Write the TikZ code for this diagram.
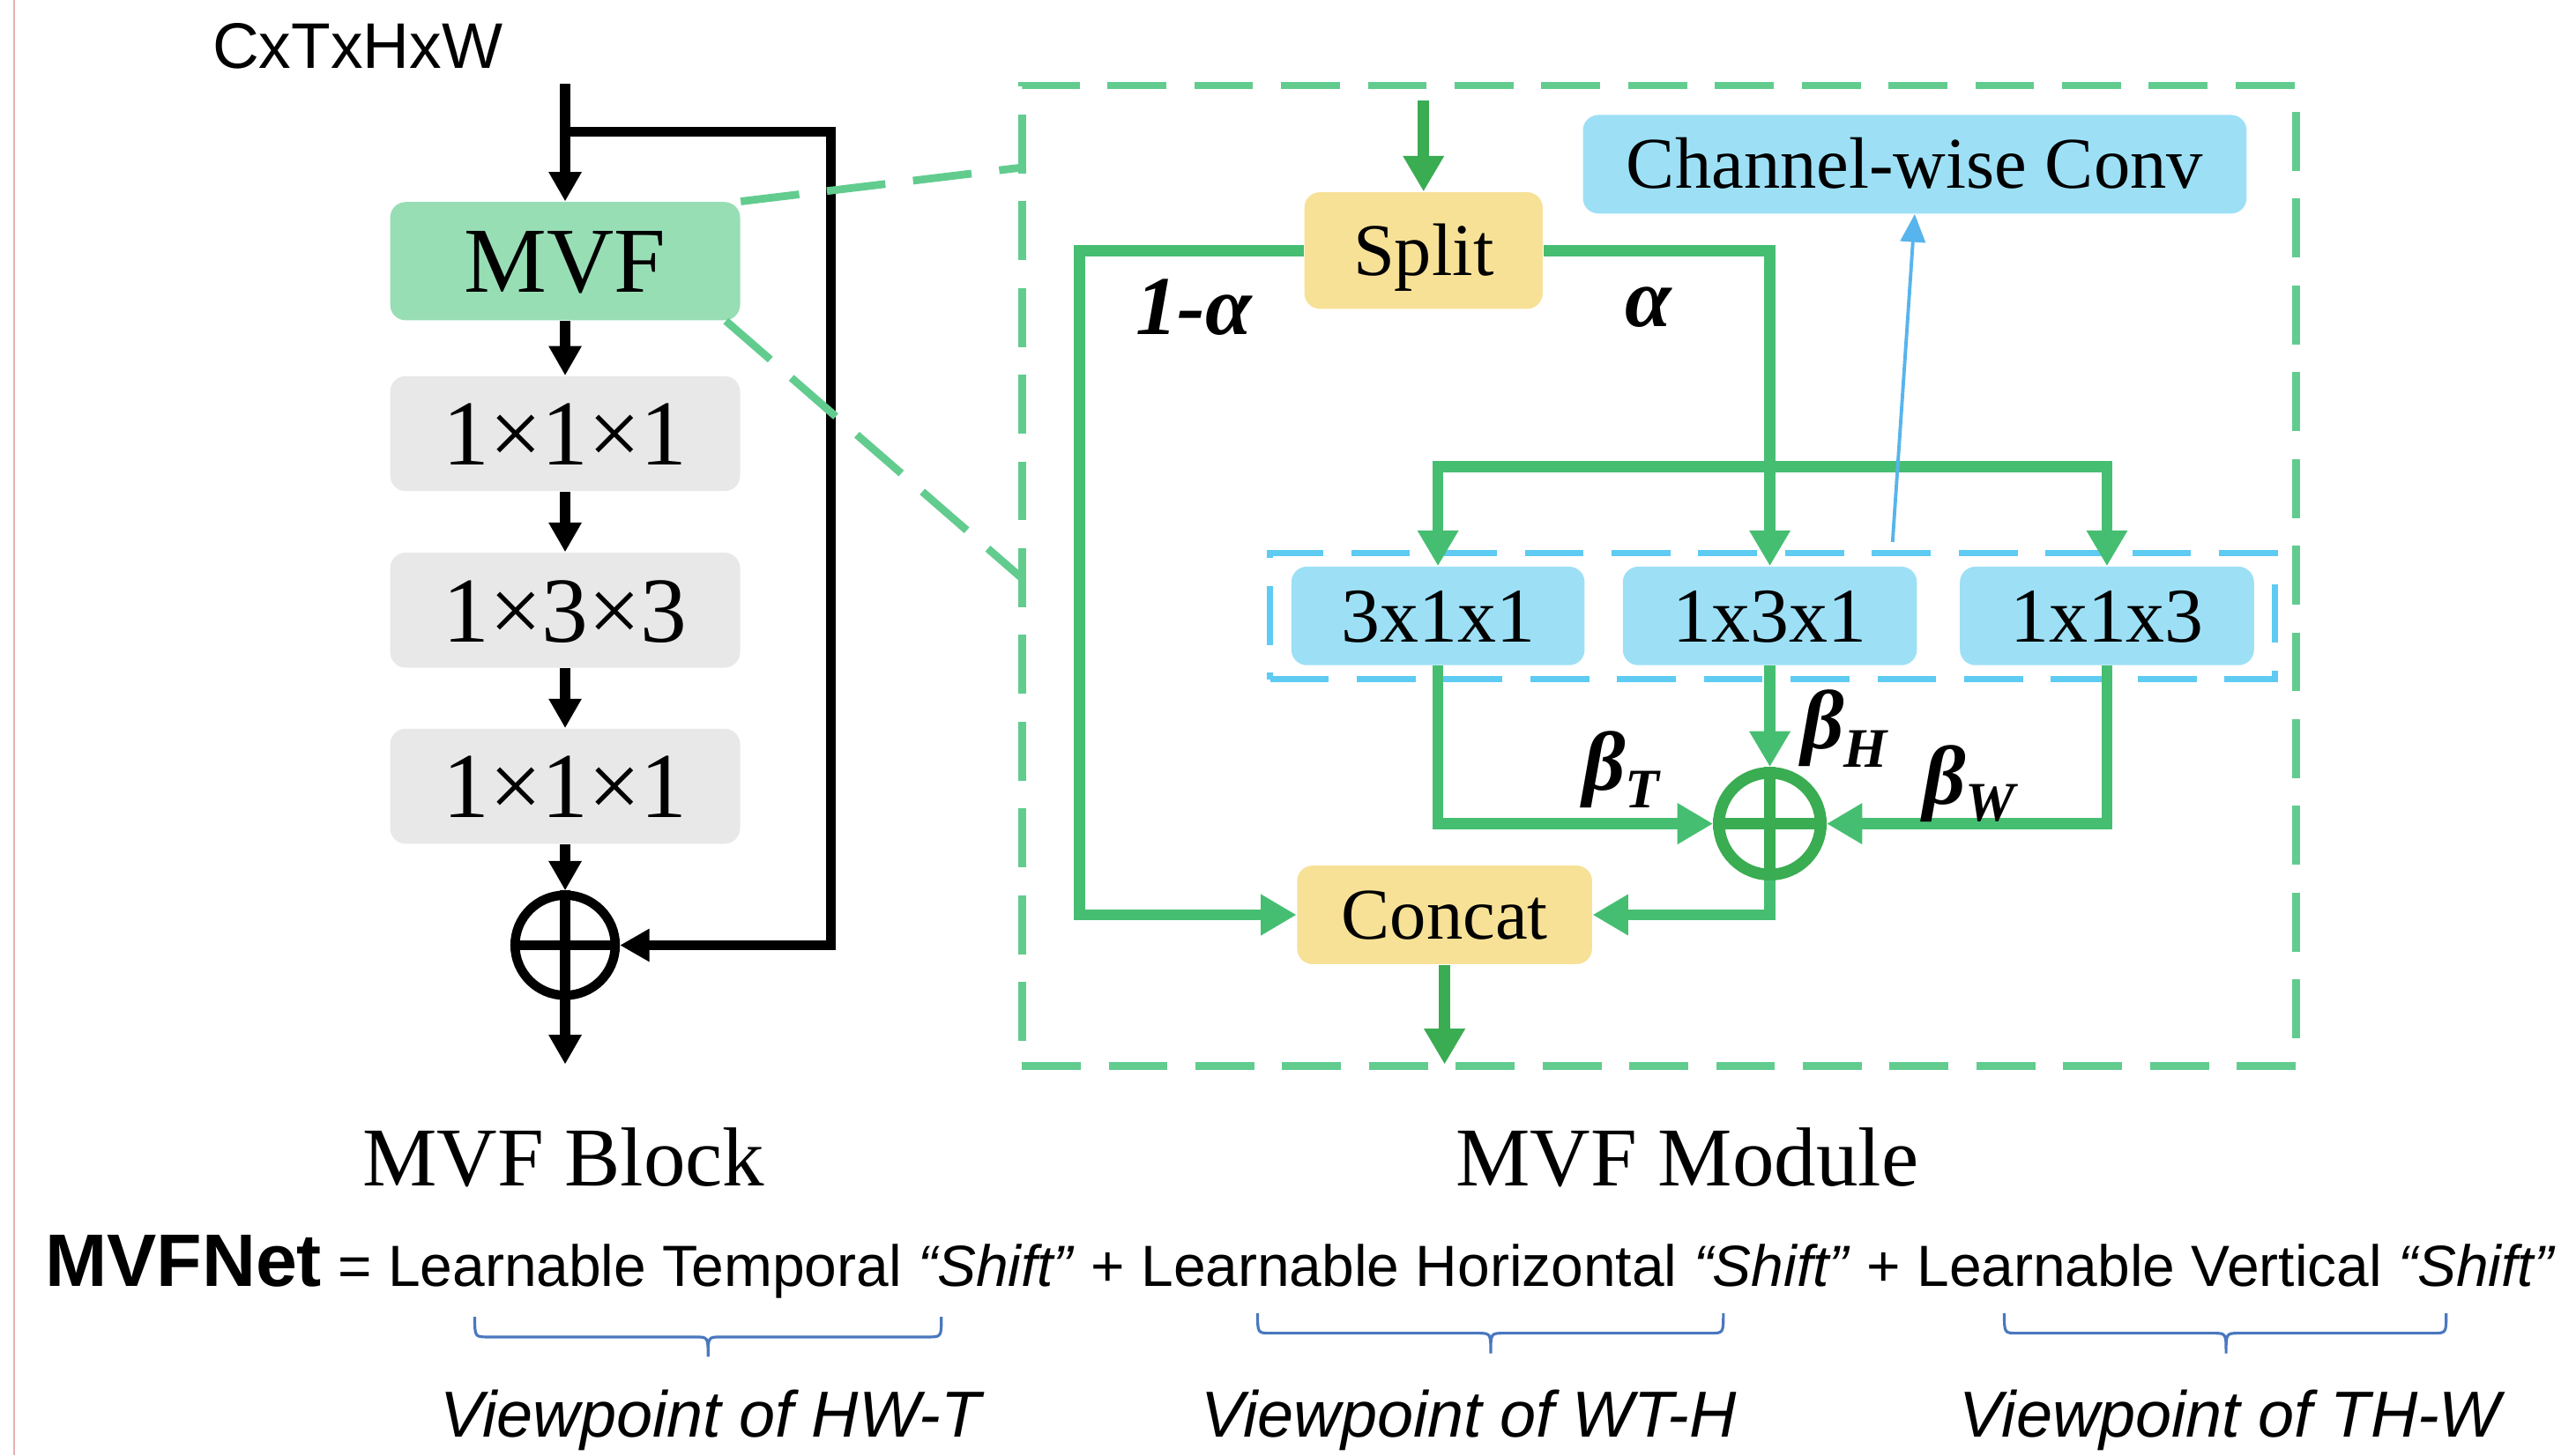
\documentclass[tikz,border=0pt]{standalone}
\usepackage{fontspec}
\setmainfont{Liberation Serif}
\newfontfamily\arialfont{Liberation Sans}
\usetikzlibrary{arrows.meta}
\newdimen\U
\U=0.018635cm
\definecolor{mvfgreen}{RGB}{152,222,181}
\definecolor{boxgray}{RGB}{232,232,232}
\definecolor{modgreen}{RGB}{98,204,143}
\definecolor{lgreen}{RGB}{70,190,114}
\definecolor{dgreen}{RGB}{58,172,82}
\definecolor{boxyellow}{RGB}{247,225,151}
\definecolor{boxblue}{RGB}{157,224,246}
\definecolor{dashblue}{RGB}{94,203,242}
\definecolor{thinblue}{RGB}{88,180,236}
\definecolor{bracecol}{RGB}{74,120,192}
\definecolor{pinkline}{RGB}{232,176,176}
\newcommand\lblfont{\bfseries\itshape\fontsize{27}{30}\selectfont}
\begin{document}
\begin{tikzpicture}[x=0.018635cm,y=-0.018635cm,
  blk/.style={draw=black,line width=3.2pt},
  blkarr/.style={blk,-{Triangle[length=9.5pt,width=10pt]}},
  gline/.style={draw=lgreen,line width=3.6pt},
  garr/.style={gline,-{Triangle[length=11.5pt,width=12.5pt]}},
  dgarr/.style={draw=dgreen,line width=3.6pt,-{Triangle[length=11.5pt,width=12.5pt]}},
  thinarr/.style={draw=thinblue,line width=1.1pt,-{Triangle[length=9pt,width=8pt]}},
  moddash/.style={draw=modgreen,line width=2.5pt,dash pattern=on 19pt off 9pt},
  grpdash/.style={draw=dashblue,line width=2pt,dash pattern=on 19pt off 9pt},
  rbox/.style={rounded corners=5pt,inner sep=0pt,text depth=0pt},
  mvfbox/.style={rbox,fill=mvfgreen,font=\fontsize{30}{34}\selectfont,text height=19.9pt,minimum width=213\U,minimum height=72\U},
  graybox/.style={rbox,fill=boxgray,font=\fontsize{30}{34}\selectfont,text height=20.3pt,minimum width=213\U,minimum height=70\U},
  yelbox/.style={rbox,fill=boxyellow,font=\fontsize{23.5}{28}\selectfont,text height=15.6pt},
  bluebox/.style={rbox,fill=boxblue,font=\fontsize{25}{30}\selectfont,text height=16.9pt},
  lbl/.style={inner sep=0pt,anchor=base west,font=\lblfont},
  brc/.style={draw=bracecol,line width=0.9pt},
  vp/.style={inner sep=0pt,anchor=base,font=\arialfont\itshape\fontsize{21}{25}\selectfont},
  ttlstyle/.style={inner sep=0pt,anchor=base,font=\fontsize{27}{32}\selectfont}
]
\path[fill=white] (0,0) rectangle (1568,886);
\useasboundingbox (0,0) rectangle (1568,886);
\draw[draw=pinkline,line width=0.6pt] (8.6,0) -- (8.6,886);

% ---------- MVF Block ----------
\node[inner sep=0pt,anchor=base west,font=\arialfont\fontsize{20.8}{24}\selectfont] (ttl) at (129,41.5) {CxTxHxW};
\coordinate (inp) at (344,51);
\coordinate (bp) at (344,80.4);
\node[mvfbox] (mvf) at (344,159) {MVF};
\node[graybox] (c1) at (344,264) {1×1×1};
\node[graybox] (c2) at (344,371.5) {1×3×3};
\node[graybox] (c3) at (344,478.7) {1×1×1};
\node[circle,draw=black,line width=3pt,minimum size=61\U,inner sep=0pt] (sum) at (344,575.5) {};
\coordinate (bout) at (344,648);
\draw[blk] (sum.north) -- (sum.south) (sum.west) -- (sum.east);
\draw[blkarr] (inp) -- (mvf.north);
\draw[blkarr] (mvf.south) -- (c1.north);
\draw[blkarr] (c1.south) -- (c2.north);
\draw[blkarr] (c2.south) -- (c3.north);
\draw[blkarr] (c3.south) -- (sum.north);
\draw[blkarr] (sum.south) -- (bout);
\draw[blkarr] (bp) -- (505.8,80.4) |- (sum.east);

\node[ttlstyle] (blocklbl) at (343,722) {MVF Block};
\node[ttlstyle] (modlbl) at (1027,722) {MVF Module};

% ---------- MVF Module ----------
\node[moddash,minimum width=775.5\U,minimum height=597\U,inner sep=0pt] (mod) at (1009.75,350.5) {};
\coordinate (d1) at (622,102);
\coordinate (d2) at (622,352);
\draw[moddash] (mvf.north east) -- (d1);
\draw[moddash] ([xshift=-4.8pt]mvf.south east) -- (d2);

\node[yelbox,font=\fontsize{24}{28}\selectfont,text height=15.9pt,minimum width=145\U,minimum height=71\U] (split) at (866.5,152.5) {Split};
\node[bluebox,font=\fontsize{23.5}{28}\selectfont,text height=15.6pt,minimum width=404\U,minimum height=60\U] (cwc) at (1165.5,100) {Channel-wise Conv};
\node[grpdash,minimum width=611.5\U,minimum height=77.2\U,inner sep=0pt] (grp) at (1078.75,375.1) {};
\node[bluebox,minimum width=178.5\U,minimum height=60\U] (b1) at (875.3,375) {3x1x1};
\node[bluebox,minimum width=179\U,minimum height=60\U] (b2) at (1077.3,375) {1x3x1};
\node[bluebox,minimum width=179\U,minimum height=60\U] (b3) at (1282.5,375) {1x1x3};
\node[circle,draw=dgreen,line width=3.8pt,minimum size=62\U,inner sep=0pt] (sum2) at (1077.3,501.5) {};
\draw[draw=dgreen,line width=3.8pt] (sum2.north) -- (sum2.south) (sum2.west) -- (sum2.east);
\node[yelbox,minimum width=179.5\U,minimum height=60\U] (concat) at (879.3,557) {Concat};

\coordinate (cin) at (866.5,61);
\coordinate (cout) at (879.3,648);
\coordinate (br) at (1077.3,284);
\coordinate (ca) at (1152,330);

\draw[dgarr] (cin) -- (split.north);
\draw[garr] (split.west) -- (657,152.5) |- (concat.west);
\draw[garr] (split.east) -| (b2.north);
\draw[garr] (br) -| (b1.north);
\draw[garr] (br) -| (b3.north);
\draw[thinarr] (ca) -- (cwc.south);
\draw[garr] (b1.south) |- (sum2.west);
\draw[garr] (b2.south) -- (sum2.north);
\draw[garr] (b3.south) |- (sum2.east);
\draw[garr] (sum2.south) |- (concat.east);
\draw[dgarr] (concat.south) -- (cout);

\node[lbl] (la1) at (691,203.5) {1-α};
\node[lbl] (la2) at (989,198.6) {α};
\node[lbl] (lbt) at (963,481) {β\raisebox{-11\U}{\fontsize{18}{20}\selectfont T}};
\node[lbl] (lbh) at (1096,456) {β\raisebox{-11\U}{\fontsize{18}{20}\selectfont H}};
\node[lbl] (lbw) at (1170,489.5) {β\raisebox{-10.5\U}{\fontsize{18}{20}\selectfont W}};

% ---------- bottom formula ----------
\node[inner sep=0pt,anchor=base west,font=\arialfont] (eq) at (27,783) {{\fontsize{24}{28}\selectfont\bfseries MVFNet}\fontsize{18.75}{23}\selectfont{} = Learnable Temporal \textit{“Shift”} + Learnable Horizontal \textit{“Shift”} + Learnable Vertical \textit{“Shift”}};

\draw[brc] (289,801.7) .. controls (289,814) .. (297,814) -- (423,814) .. controls (431,814) .. (431,826) .. controls (431,814) .. (439,814) -- (565,814) .. controls (573,814) .. (573,801.7);
\draw[brc] (765.5,799.6) .. controls (765.5,811.7) .. (773.5,811.7) -- (899.4,811.7) .. controls (907.4,811.7) .. (907.4,824) .. controls (907.4,811.7) .. (915.4,811.7) -- (1041,811.7) .. controls (1049,811.7) .. (1049,799.6);
\draw[brc] (1220,799.6) .. controls (1220,811.7) .. (1228,811.7) -- (1347,811.7) .. controls (1355,811.7) .. (1355,824) .. controls (1355,811.7) .. (1363,811.7) -- (1481,811.7) .. controls (1489,811.7) .. (1489,799.6);

\node[vp] (v1) at (432.5,874.7) {Viewpoint of HW-T};
\node[vp] (v2) at (894,874.7) {Viewpoint of WT-H};
\node[vp] (v3) at (1357.5,874.7) {Viewpoint of TH-W};
\end{tikzpicture}
\end{document}
